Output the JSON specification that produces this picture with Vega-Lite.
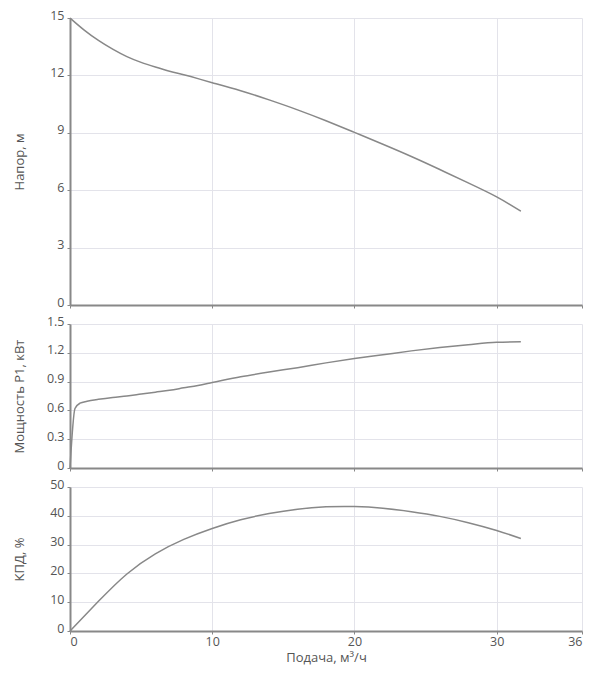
{
  "$schema": "https://vega.github.io/schema/vega-lite/v6.json",
  "padding": {"left": 12, "top": 9, "right": 5, "bottom": 5},
  "background": "white",
  "spacing": 19,
  "bounds": "flush",
  "datasets": {
    "head": [
      {"q": 0, "v": 15}, {"q": 1, "v": 14.37}, {"q": 2, "v": 13.83}, {"q": 3, "v": 13.37},
      {"q": 4, "v": 12.98}, {"q": 5, "v": 12.68}, {"q": 6, "v": 12.44}, {"q": 7, "v": 12.22},
      {"q": 8, "v": 12.03}, {"q": 9, "v": 11.83}, {"q": 10, "v": 11.62}, {"q": 12, "v": 11.2},
      {"q": 14, "v": 10.72}, {"q": 16, "v": 10.2}, {"q": 18, "v": 9.63}, {"q": 20, "v": 9.02},
      {"q": 22, "v": 8.4}, {"q": 24, "v": 7.76}, {"q": 26, "v": 7.08}, {"q": 28, "v": 6.38},
      {"q": 30, "v": 5.65}, {"q": 31.7, "v": 4.9}
    ],
    "power": [
      {"q": 0, "v": 0}, {"q": 0.35, "v": 0.62}, {"q": 0.7, "v": 0.675}, {"q": 1.2, "v": 0.695},
      {"q": 2, "v": 0.715}, {"q": 3, "v": 0.735}, {"q": 4, "v": 0.75}, {"q": 5, "v": 0.77},
      {"q": 6, "v": 0.79}, {"q": 7, "v": 0.81}, {"q": 8, "v": 0.835}, {"q": 9, "v": 0.86},
      {"q": 10, "v": 0.89}, {"q": 12, "v": 0.95}, {"q": 14, "v": 1.0}, {"q": 16, "v": 1.045},
      {"q": 18, "v": 1.095}, {"q": 20, "v": 1.14}, {"q": 22, "v": 1.18}, {"q": 24, "v": 1.22},
      {"q": 26, "v": 1.255}, {"q": 28, "v": 1.285}, {"q": 30, "v": 1.31}, {"q": 31.7, "v": 1.315}
    ],
    "eff": [
      {"q": 0, "v": 0}, {"q": 2, "v": 10.3}, {"q": 4, "v": 19.8}, {"q": 6, "v": 26.8},
      {"q": 8, "v": 31.8}, {"q": 10, "v": 35.6}, {"q": 12, "v": 38.6}, {"q": 14, "v": 40.8},
      {"q": 16, "v": 42.3}, {"q": 18, "v": 43.1}, {"q": 20, "v": 43.2}, {"q": 22, "v": 42.6},
      {"q": 24, "v": 41.4}, {"q": 26, "v": 39.8}, {"q": 28, "v": 37.6}, {"q": 30, "v": 34.9},
      {"q": 31.7, "v": 32.1}
    ]
  },
  "config": {
    "font": "Open Sans",
    "view": {"stroke": null},
    "axis": {
      "labelFont": "Open Sans",
      "titleFont": "Open Sans",
      "labelFontSize": 12.5,
      "titleFontSize": 13,
      "titleFontWeight": "normal",
      "labelColor": "#555555",
      "titleColor": "#555555",
      "domainColor": "#888888",
      "domainWidth": 2,
      "tickColor": "#888888",
      "tickSize": 3,
      "gridColor": "#e3e3ea",
      "gridWidth": 1
    },
    "axisY": {
      "labelOffset": -3,
      "labelPadding": 3,
      "titleX": -44
    },
    "axisX": {"labelPadding": 1, "titlePadding": 4},
    "line": {"color": "#888888", "strokeWidth": 1.5}
  },
  "vconcat": [
    {
      "width": 512,
      "height": 287,
      "data": {"name": "head"},
      "mark": {"type": "line", "interpolate": "natural"},
      "encoding": {
        "x": {"field": "q", "type": "quantitative", "scale": {"domain": [0, 36], "nice": false},
              "axis": {"values": [0, 10, 20, 30, 36], "labels": false, "title": null}},
        "y": {"field": "v", "type": "quantitative", "scale": {"domain": [0, 15], "nice": false},
              "axis": {"values": [0, 3, 6, 9, 12, 15], "format": "d", "title": "Напор, м"}}
      }
    },
    {
      "width": 512,
      "height": 144,
      "data": {"name": "power"},
      "mark": {"type": "line", "interpolate": "monotone"},
      "encoding": {
        "x": {"field": "q", "type": "quantitative", "scale": {"domain": [0, 36], "nice": false},
              "axis": {"values": [0, 10, 20, 30, 36], "labels": false, "title": null}},
        "y": {"field": "v", "type": "quantitative", "scale": {"domain": [0, 1.5], "nice": false},
              "axis": {"values": [0, 0.3, 0.6, 0.9, 1.2, 1.5], "format": ".1~f", "title": "Мощность Р1, кВт"}}
      }
    },
    {
      "width": 512,
      "height": 144,
      "data": {"name": "eff"},
      "mark": {"type": "line", "interpolate": "natural"},
      "encoding": {
        "x": {"field": "q", "type": "quantitative", "scale": {"domain": [0, 36], "nice": false},
              "axis": {"values": [0, 10, 20, 30, 36], "format": "d", "title": "Подача, м³/ч"}},
        "y": {"field": "v", "type": "quantitative", "scale": {"domain": [0, 50], "nice": false},
              "axis": {"values": [0, 10, 20, 30, 40, 50], "format": "d", "title": "КПД, %"}}
      }
    }
  ]
}
